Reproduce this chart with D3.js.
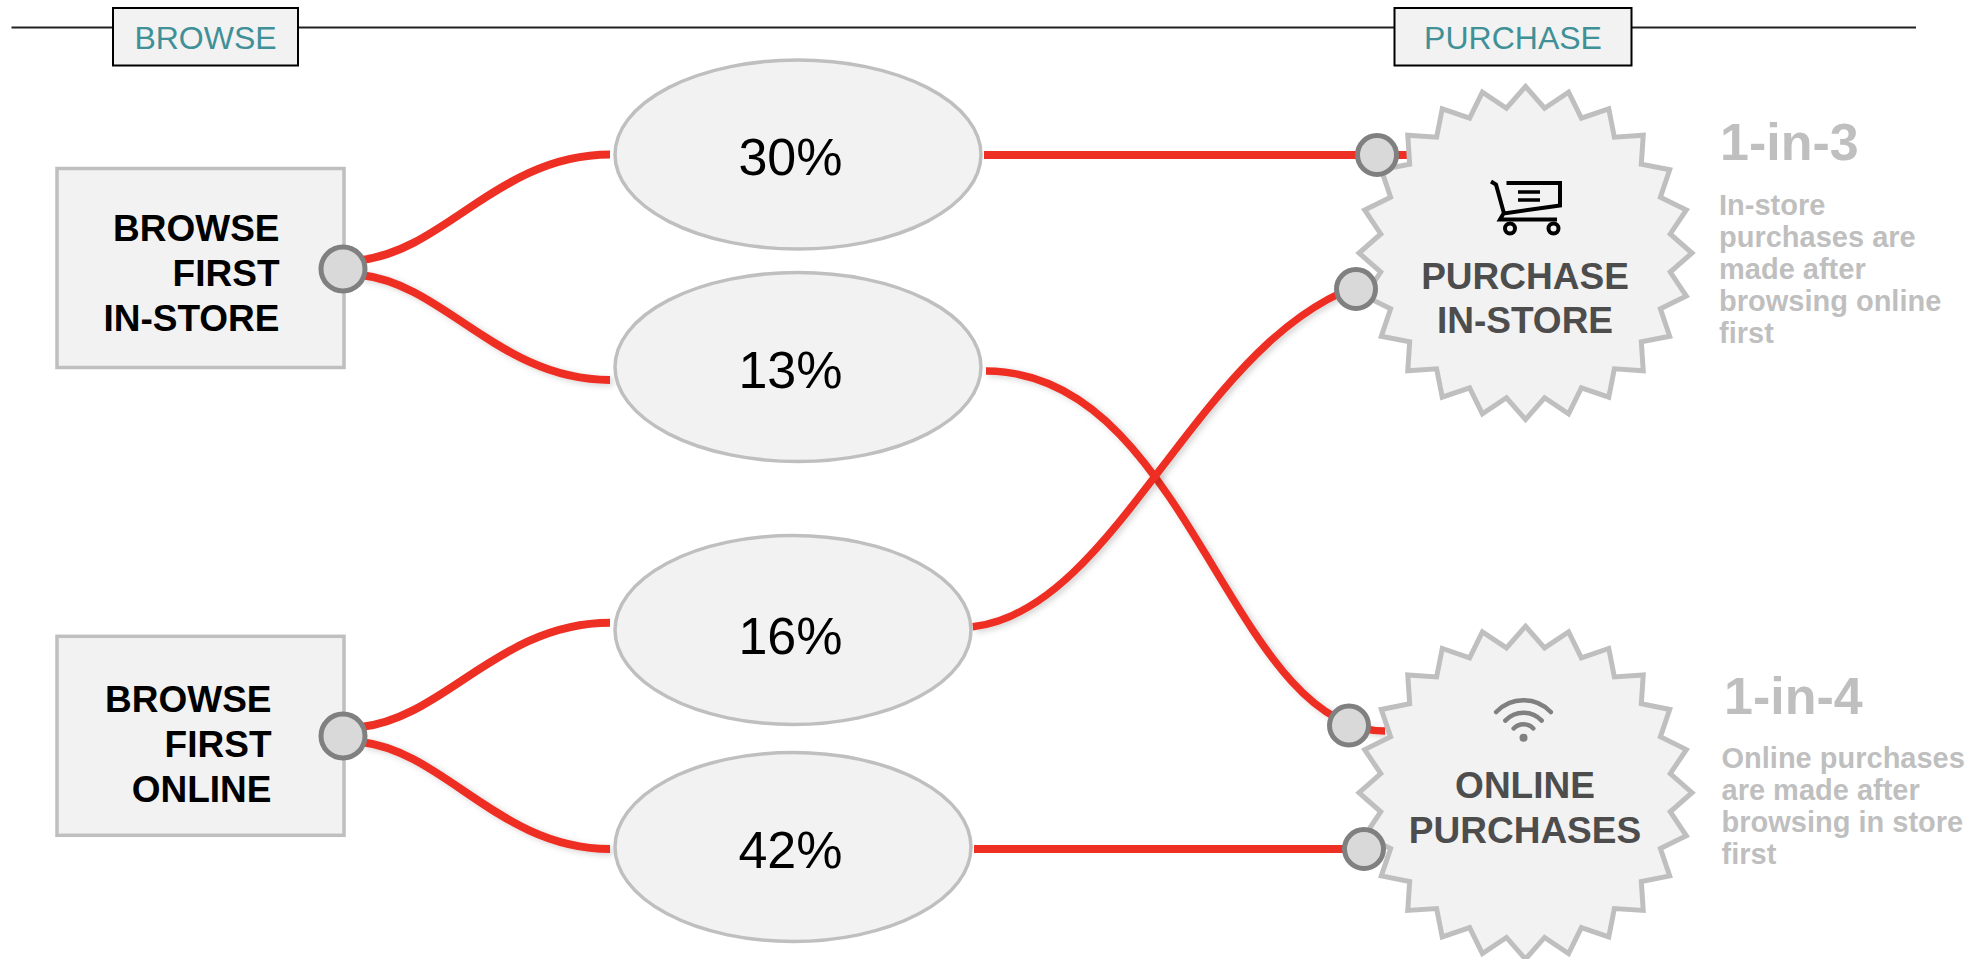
<!DOCTYPE html>
<html>
<head>
<meta charset="utf-8">
<script src="https://cdn.jsdelivr.net/npm/d3@7"></script>
<style>
  html, body { margin: 0; background: #fff; }
  svg { display: block; font-family: "Liberation Sans", Arial, sans-serif; }
</style>
</head>
<body>
<div id="chart"></div>
<script>
// data
const stages = ["BROWSE", "PURCHASE"];
const sources = ["in-store", "online"];
const sourceLabels = [["BROWSE", "FIRST", "IN-STORE"], ["BROWSE", "FIRST", "ONLINE"]];
const shares = [30, 13, 16, 42];
const shareSources = ["in-store", "in-store", "online", "online"];
const shareTargets = ["store", "online", "store", "online"];
const targets = ["store", "online"];
const targetLabels = [["PURCHASE", "IN-STORE"], ["ONLINE", "PURCHASES"]];
const ratios = ["1-in-3", "1-in-4"];
const notes = [
  ["In-store", "purchases are", "made after", "browsing online", "first"],
  ["Online purchases", "are made after", "browsing in store", "first"]
];

const width = 1977, height = 959;
const red = "#ee2f24", grey = "#bfbfbf", panel = "#f2f2f2", teal = "#3f9097";

// scales, everything is placed through these
const stageX = d3.scaleOrdinal(stages, [205.5, 1513]);
const sourceY = d3.scaleOrdinal(sources, [268, 735]);
const shareY = d3.scaleOrdinal(shares, [154.5, 367, 630, 847]);
const shareX = d3.scaleOrdinal(shares, [798, 798, 793, 793]);
const shareRx = d3.scaleOrdinal(shares, [183, 183, 178, 178]);
const shareBase = d3.scaleOrdinal(shares, [174.5, 388, 654, 867.5]);
const targetY = d3.scaleOrdinal(targets, [253, 792.7]);
const targetX = 1525.5;
const sourceX = 343;
// where links meet the ellipses on the left side
const inletY = d3.scaleOrdinal(shares, [154.5, 380, 622.7, 849]);
// where each share's line plugs into the burst
const plugX = d3.scaleOrdinal(shares, [1377, 1349, 1356, 1364]);
const plugY = d3.scaleOrdinal(shares, [155, 725.5, 289, 849]);
const stubEnd = d3.scaleOrdinal(shares, [1412, 1385, 1370, 1380]);
const stubY = d3.scaleOrdinal(shares, [155, 731, 282, 849]);

const svg = d3.select("#chart").append("svg").attr("width", width).attr("height", height);

const shadow = svg.append("defs").append("filter").attr("id", "soft")
  .attr("x", "-20%").attr("y", "-20%").attr("width", "140%").attr("height", "140%");
shadow.append("feDropShadow").attr("dx", 3).attr("dy", 2).attr("stdDeviation", 3)
  .attr("flood-color", "#000").attr("flood-opacity", 0.18);

// top rule and stage tags
svg.append("line").attr("x1", 11.5).attr("x2", 1916).attr("y1", 27.5).attr("y2", 27.5)
  .attr("stroke", "#222").attr("stroke-width", 2);

const tagWidth = d3.scaleOrdinal(stages, [185, 237]);
const tags = svg.selectAll(".tag").data(stages).enter().append("g").attr("class", "tag");
tags.append("rect")
  .attr("x", d => stageX(d) - tagWidth(d) / 2).attr("y", 8)
  .attr("width", d => tagWidth(d)).attr("height", 57.5)
  .attr("fill", panel).attr("stroke", "#000").attr("stroke-width", 2);
tags.append("text")
  .attr("x", d => stageX(d)).attr("y", 48.5)
  .attr("text-anchor", "middle").attr("font-size", 32).attr("fill", teal)
  .text(d => d);

// S shaped link, a/b are how far along the controls sit, k/m how far they lean
function bend(x0, y0, x1, y1, a, k, b, m) {
  const p = d3.path();
  p.moveTo(x0, y0);
  p.bezierCurveTo(x0 + a * (x1 - x0), y0 + k * (y1 - y0), x0 + b * (x1 - x0), y1 - m * (y1 - y0), x1, y1);
  return p.toString();
}

const links = svg.append("g").attr("fill", "none").attr("stroke", red).attr("stroke-width", 8);

// source node to share ellipse
links.selectAll(".left").data(shares).enter().append("path")
  .attr("class", "left")
  .attr("d", (d, i) => {
    const y0 = sourceY(shareSources[i]) + (i % 2 ? 7 : -8);
    return bend(sourceX + 18, y0, 610, inletY(d), 0.337, 0.09, 0.558, 0);
  })
  .attr("filter", (d, i) => i % 2 ? "url(#soft)" : null);

// share ellipse to purchase, two go straight and two cross over
links.selectAll(".right").data(shares).enter().append("path")
  .attr("class", "right")
  .attr("d", (d, i) => {
    const x0 = shareX(d) + shareRx(d) + 3;
    if (i == 1) return bend(x0 + 2, 371, stubEnd(d), stubY(d), 0.511, 0, 0.611, 0);
    if (i == 2) return bend(x0 - 1.3, 626.7, stubEnd(d), stubY(d), 0.371, 0.048, 0.572, 0.139);
    return bend(x0, plugY(d), stubEnd(d), stubY(d), 0.3, 0, 0.7, 0);
  })
  .attr("stroke-width", (d, i) => i == 1 || i == 2 ? 7.5 : 8)
  .attr("filter", (d, i) => i == 1 || i == 2 ? "url(#soft)" : null);

// source boxes
const boxes = svg.selectAll(".source").data(sources).enter().append("g").attr("class", "source");
const boxY = d3.scaleOrdinal(sources, [168.5, 636.3]);
const labelRight = d3.scaleOrdinal(sources, [279.5, 271.5]);
const labelBase = d3.scaleOrdinal(sources, [241, 711.5]);
boxes.append("rect")
  .attr("x", 57).attr("y", d => boxY(d))
  .attr("width", 287).attr("height", 199)
  .attr("fill", panel).attr("stroke", grey).attr("stroke-width", 3.5);
boxes.each(function (d, i) {
  d3.select(this).selectAll("text").data(sourceLabels[i]).enter().append("text")
    .attr("x", labelRight(d))
    .attr("y", (t, j) => labelBase(d) + j * 45)
    .attr("text-anchor", "end").attr("font-size", 37).attr("font-weight", "bold")
    .attr("fill", "#000")
    .text(t => t);
});

// share ellipses
const ovals = svg.selectAll(".share").data(shares).enter().append("g").attr("class", "share");
ovals.append("ellipse")
  .attr("cx", d => shareX(d)).attr("cy", d => shareY(d))
  .attr("rx", d => shareRx(d)).attr("ry", 94.5)
  .attr("fill", panel).attr("stroke", grey).attr("stroke-width", 3.5);
ovals.append("text")
  .attr("x", 842.5).attr("y", d => shareBase(d))
  .attr("text-anchor", "end").attr("font-size", 52).attr("fill", "#000")
  .text(d => d + "%");

// purchase bursts, 24 spikes
const burstAngles = d3.range(48).map(i => i * Math.PI / 24);
const burstLine = d3.lineRadial().angle(d => d).radius((d, i) => i % 2 ? 146 : 166.5).curve(d3.curveLinearClosed);
const bursts = svg.selectAll(".burst").data(targets).enter().append("g")
  .attr("class", "burst")
  .attr("transform", d => `translate(${targetX},${targetY(d)})`);
bursts.append("path")
  .attr("d", burstLine(burstAngles))
  .attr("fill", panel).attr("stroke", grey).attr("stroke-width", 5).attr("stroke-miterlimit", 10);
bursts.each(function (d, i) {
  d3.select(this).selectAll("text").data(targetLabels[i]).enter().append("text")
    .attr("x", -0.5)
    .attr("y", (t, j) => (i ? 5 : 36) + j * (i ? 45 : 44))
    .attr("text-anchor", "middle").attr("font-size", 37).attr("font-weight", "bold")
    .attr("fill", "#4d4d4d")
    .text(t => t);
});

// cart icon
const cart = bursts.filter(d => d == "store").append("g").attr("fill", "none").attr("stroke", "#000");
cart.append("path").attr("stroke-width", 4)
  .attr("d", "M-34.5,-71.5L-29.5,-68.5L-21.5,-39.5M-19,-70H34.5V-47.5L-22,-39.5L-25.5,-33.5H31.5");
cart.append("path").attr("stroke-width", 3.5).attr("d", "M-7.5,-61H14.5M-7.5,-53H14.5");
cart.selectAll("circle").data([-15.5, 28]).enter().append("circle")
  .attr("cx", d => d).attr("cy", -24.5).attr("r", 5).attr("stroke-width", 4);

// wifi icon
const wifi = bursts.filter(d => d == "online").append("g")
  .attr("transform", "translate(-2,-55)")
  .attr("fill", "none").attr("stroke", "#808080").attr("stroke-width", 4.5).attr("stroke-linecap", "round");
wifi.selectAll("path").data([13.5, 25, 37.5]).enter().append("path")
  .attr("d", r => {
    const p = d3.path();
    p.arc(0, 0, r, -Math.PI * 0.76, -Math.PI * 0.24);
    return p.toString();
  });
wifi.append("circle").attr("r", 4).attr("fill", "#808080").attr("stroke", "none");

// plug circles
const plugStyle = sel => sel.attr("fill", "#d9d9d9").attr("stroke", "#808080").attr("stroke-width", 5);
svg.selectAll(".node").data(sources).enter().append("circle")
  .attr("class", "node")
  .attr("cx", sourceX).attr("cy", d => sourceY(d) + 1).attr("r", 22)
  .call(plugStyle);
svg.selectAll(".plug").data(shares).enter().append("circle")
  .attr("class", "plug")
  .attr("cx", d => plugX(d)).attr("cy", d => plugY(d)).attr("r", 19.5)
  .call(plugStyle);

// side notes
const noteX = d3.scaleOrdinal(targets, [1719, 1721.5]);
const ratioX = d3.scaleOrdinal(targets, [1720, 1724]);
const ratioY = d3.scaleOrdinal(targets, [160, 714]);
const noteY = d3.scaleOrdinal(targets, [214.5, 767.5]);
const side = svg.selectAll(".note").data(targets).enter().append("g").attr("class", "note")
  .attr("fill", grey).attr("font-weight", "bold");
side.append("text")
  .attr("x", d => ratioX(d)).attr("y", d => ratioY(d))
  .attr("font-size", 52)
  .text((d, i) => ratios[i]);
side.each(function (d, i) {
  d3.select(this).selectAll(".line").data(notes[i]).enter().append("text")
    .attr("class", "line")
    .attr("x", noteX(d))
    .attr("y", (t, j) => noteY(d) + j * 32.1)
    .attr("font-size", 29)
    .text(t => t);
});
</script>
</body>
</html>
